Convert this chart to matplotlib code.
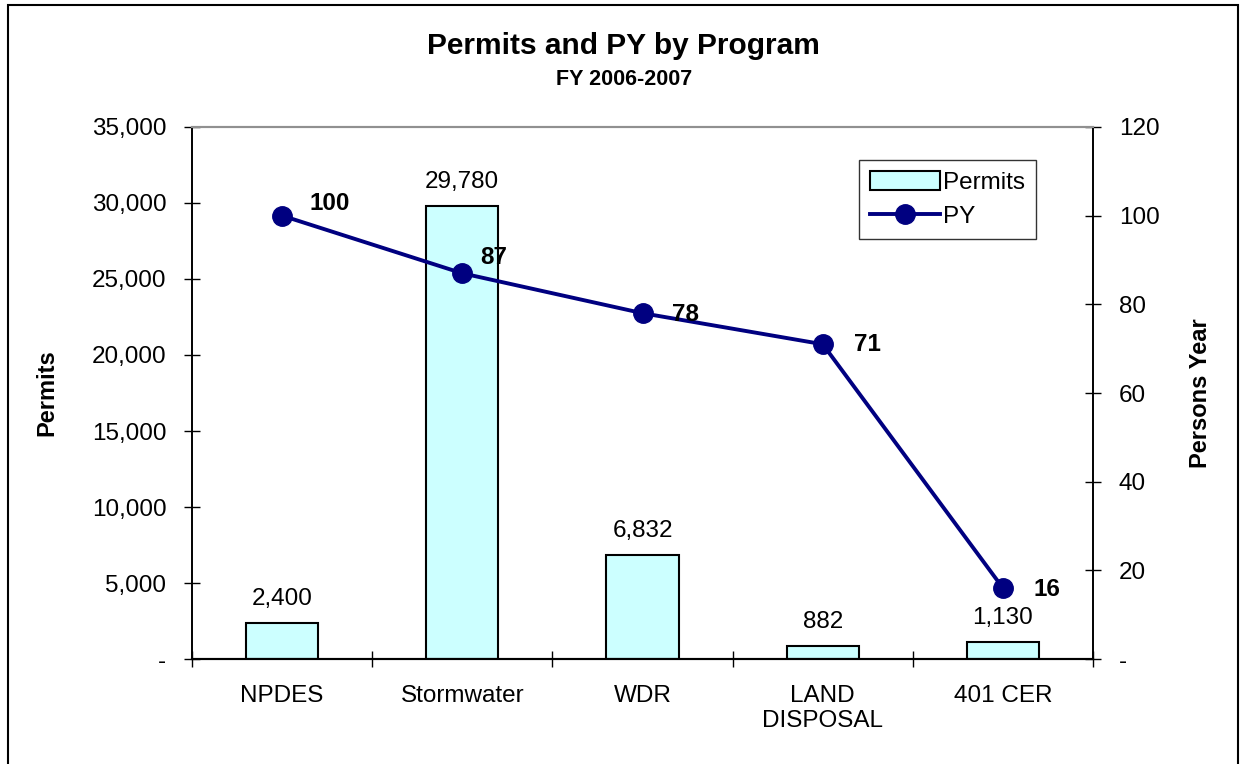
import matplotlib.pyplot as plt
from matplotlib.patches import Rectangle
from matplotlib.ticker import FuncFormatter

programs = ["NPDES", "Stormwater", "WDR", "LAND\nDISPOSAL", "401 CER"]
permits = [2400, 29780, 6832, 882, 1130]
py = [100, 87, 78, 71, 16]
# label nudges for the PY values, in pixels (x, y)
py_offsets = [(27, 12), (18, 16), (29, -1), (31, 0), (31, -1)]

plt.rcParams['font.family'] = ['Liberation Sans', 'DejaVu Sans']

fig = plt.figure(figsize=(12.4, 7.64), dpi=100)
ax = fig.add_axes([0.1548, 0.1374, 0.7267, 0.6964])
ax2 = ax.twinx()

x = range(len(programs))
bars = ax.bar(x, permits, width=0.4, color='#ccffff', edgecolor='black',
              linewidth=1.5, label='Permits', zorder=2)
ax.set_xlim(-0.5, 4.5)
ax.set_ylim(0, 35000)
ax.set_yticks(range(0, 35001, 5000))
ax.yaxis.set_major_formatter(FuncFormatter(lambda v, p: '-' if v == 0 else '{:,.0f}'.format(v)))
ax.set_xticks(x)
ax.set_xticklabels(programs, fontsize=17.5, linespacing=1.15)
ax.set_xticks([i - 0.5 for i in range(6)], minor=True)
ax.tick_params(axis='x', which='major', length=0, pad=19)
ax.tick_params(axis='x', which='minor', direction='inout', length=11, width=1)
ax.tick_params(axis='y', direction='inout', length=11, width=1, labelsize=17.5, pad=13)
ax.set_ylabel('Permits', fontsize=17, fontweight='bold', labelpad=24)

for b, v in zip(bars, permits):
    ax.annotate('{:,}'.format(v), (b.get_x() + b.get_width() / 2, v),
                xytext=(0, 13), textcoords='offset pixels',
                ha='center', va='bottom', fontsize=17.5)

line, = ax2.plot(list(x), py, color='#000080', linewidth=2.8, marker='o',
                 markersize=14, label='PY', zorder=3)
ax2.set_ylim(0, 120)
ax2.set_yticks(range(0, 121, 20))
ax2.yaxis.set_major_formatter(FuncFormatter(lambda v, p: '-' if v == 0 else '{:.0f}'.format(v)))
ax2.tick_params(axis='y', direction='inout', length=11, width=1, labelsize=17.5, pad=13)
ax2.set_ylabel('Persons Year', fontsize=17, fontweight='bold', labelpad=21)

for i, v in enumerate(py):
    dx, dy = py_offsets[i]
    ax2.annotate(str(v), (i, v), xytext=(dx, dy), textcoords='offset pixels',
                 ha='left', va='center', fontsize=17.5, fontweight='bold')

for a in (ax, ax2):
    a.spines['top'].set_color('#909090')
    a.spines['top'].set_linewidth(1.5)
    a.spines['left'].set_linewidth(1.2)
    a.spines['right'].set_linewidth(1.2)
    a.spines['bottom'].set_linewidth(1.5)

leg = ax2.legend([bars, line], ['Permits', 'PY'], loc='upper right',
                 bbox_to_anchor=(0.95, 0.96), fontsize=17.5, frameon=True,
                 fancybox=False, edgecolor='black', handlelength=2.9,
                 handleheight=0.8, handletextpad=0.1, borderpad=0.45,
                 labelspacing=0.45)
leg.get_frame().set_linewidth(1.0)

fig.text(0.503, 0.94, 'Permits and PY by Program', ha='center', va='center',
         fontsize=21.5, fontweight='bold')
fig.text(0.503, 0.896, 'FY 2006-2007', ha='center', va='center',
         fontsize=15.5, fontweight='bold')

fig.patches.append(Rectangle((0.0065, -0.01), 0.992, 1.003, transform=fig.transFigure,
                             fill=False, edgecolor='black', linewidth=1.5))

fig.savefig('out.png', dpi=100)
